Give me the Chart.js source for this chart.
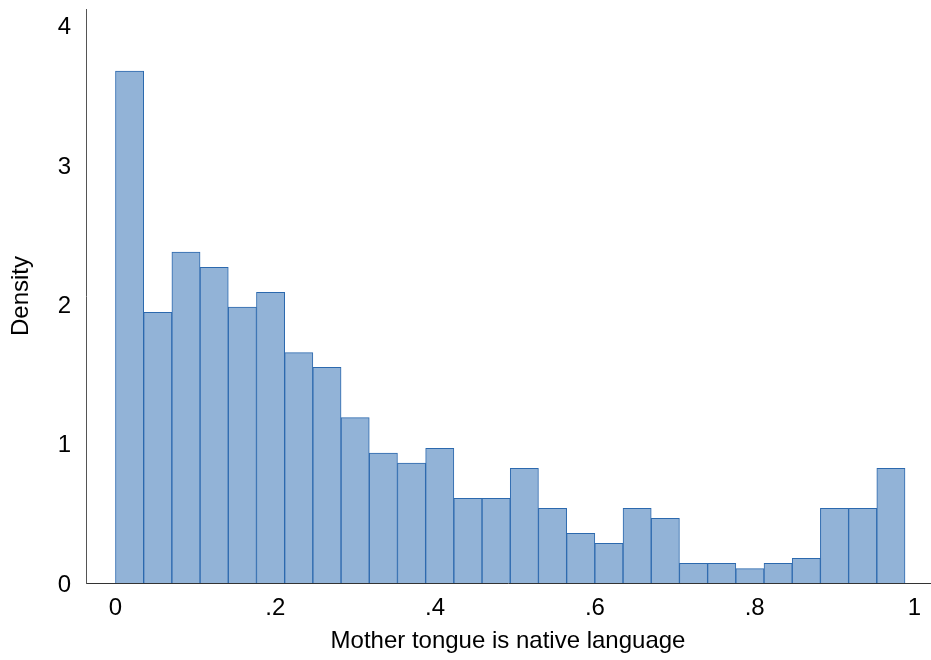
<!DOCTYPE html>
<html>
<head>
<meta charset="utf-8">
<title>Mother tongue is native language — histogram</title>
<script src="https://cdn.jsdelivr.net/npm/chart.js@4.4.1/dist/chart.umd.min.js"></script>
<style>
  html, body { margin: 0; padding: 0; background: #ffffff; }
  #wrap { width: 931px; height: 660px; }
</style>
</head>
<body>
<div id="wrap"><canvas id="hist" width="931" height="660"></canvas></div>
<script>
// Histogram bins: 28 equal-width bins starting at 0
const binStart = 0;
const binWidth = 0.03529;
const density = [
  3.675, 1.943, 2.376, 2.266, 1.981, 2.087, 1.653, 1.548,
  1.187, 0.933, 0.861, 0.967, 0.608, 0.608, 0.823, 0.536,
  0.357, 0.285, 0.536, 0.464, 0.141, 0.141, 0.103, 0.141,
  0.177, 0.536, 0.536, 0.823
];

// Axis ticks
const xTickValues = [0, 0.2, 0.4, 0.6, 0.8, 1];
const xTickLabels = ['0', '.2', '.4', '.6', '.8', '1'];
const yTickValues = [0, 1, 2, 3, 4];
const yTickLabels = ['0', '1', '2', '3', '4'];

const xTitle = 'Mother tongue is native language';
const yTitle = 'Density';

// Bars are centred on their bin midpoints
const points = density.map((d, i) => ({ x: binStart + (i + 0.5) * binWidth, y: d }));

const FONT = { family: '"Liberation Sans", Arial, Helvetica, sans-serif', size: 24 };

new Chart(document.getElementById('hist'), {
  type: 'bar',
  data: {
    datasets: [{
      data: points,
      backgroundColor: '#92b3d7',
      borderColor: '#2c69ae',
      borderWidth: 1,
      borderSkipped: 'start',
      barPercentage: 1,
      categoryPercentage: 1
    }]
  },
  options: {
    responsive: false,
    animation: false,
    devicePixelRatio: 1,
    layout: { padding: { top: 9, right: 1, left: 0, bottom: 0 } },
    plugins: {
      legend: { display: false },
      tooltip: { enabled: false }
    },
    scales: {
      x: {
        type: 'linear',
        offset: false,
        min: -0.0369,
        max: 1.0194,
        grid: { display: false, drawTicks: false, offset: false },
        border: { display: true, color: '#333333', width: 1 },
        afterBuildTicks: (scale) => { scale.ticks = xTickValues.map(v => ({ value: v })); },
        afterFit: (scale) => {
          scale.height = 77;
          scale.paddingLeft = 0;
          scale.paddingRight = 0;
        },
        ticks: {
          autoSkip: false,
          maxRotation: 0,
          padding: 11,
          color: '#000000',
          font: FONT,
          callback: (v) => xTickLabels[xTickValues.indexOf(v)]
        },
        title: {
          display: true,
          text: xTitle,
          color: '#000000',
          font: FONT,
          padding: { top: 4, bottom: 4 }
        }
      },
      y: {
        type: 'linear',
        min: 0,
        max: 4.12,
        grid: { display: false, drawTicks: false },
        border: { display: true, color: '#555555', width: 1 },
        afterBuildTicks: (scale) => { scale.ticks = yTickValues.map(v => ({ value: v })); },
        afterFit: (scale) => {
          scale.width = 86;
          scale.paddingTop = 0;
          scale.paddingBottom = 0;
        },
        ticks: {
          padding: 15,
          labelOffset: 2,
          color: '#000000',
          font: FONT,
          callback: (v) => yTickLabels[yTickValues.indexOf(v)]
        },
        title: {
          display: true,
          text: yTitle,
          color: '#000000',
          font: FONT,
          padding: { top: 7, bottom: 4 }
        }
      }
    }
  }
});
</script>
</body>
</html>
